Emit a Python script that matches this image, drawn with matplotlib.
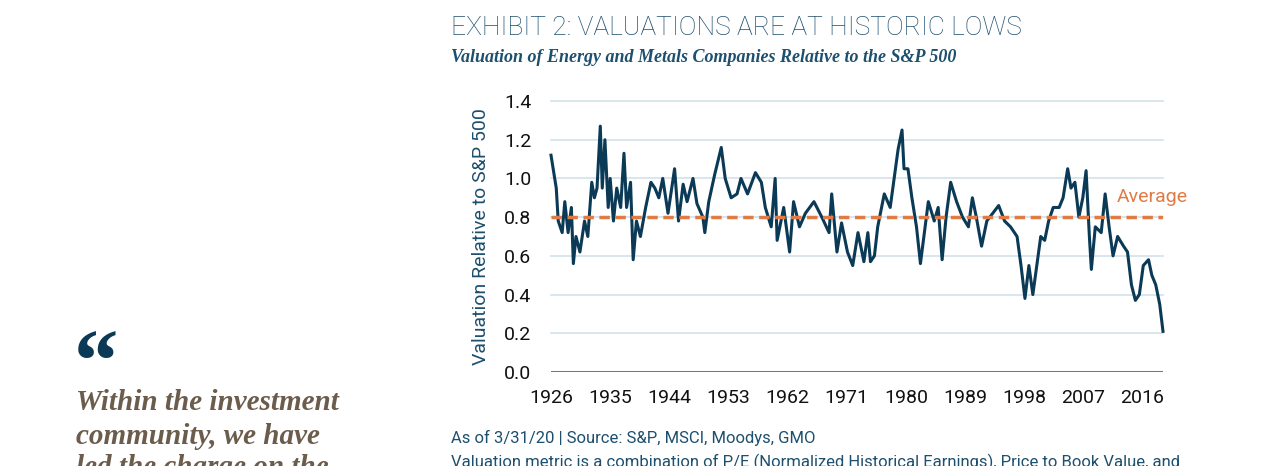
import matplotlib
matplotlib.use("Agg")
import matplotlib.pyplot as plt

years = [1926.0,1926.8,1927.1,1927.7,1928.1,1928.6,1929.1,1929.4,1929.8,1930.4,1931.1,1931.6,1932.2,1932.6,1933.0,1933.5,1933.8,1934.2,1934.7,1935.0,1935.5,1936.0,1936.6,1937.1,1937.5,1938.1,1938.5,1939.0,1939.6,1940.4,1941.2,1941.8,1942.4,1943.0,1943.8,1944.8,1945.4,1946.1,1946.7,1947.6,1948.2,1949.1,1949.4,1950.0,1950.9,1951.9,1952.5,1953.4,1954.3,1954.9,1955.9,1957.1,1958.0,1958.6,1959.5,1960.1,1960.4,1961.4,1962.3,1962.9,1963.8,1964.7,1966.0,1967.2,1968.3,1968.7,1969.5,1970.2,1971.1,1971.9,1972.7,1973.6,1974.2,1974.6,1975.2,1975.7,1976.7,1977.6,1978.2,1978.8,1979.4,1979.7,1980.3,1980.9,1981.6,1982.2,1982.8,1983.4,1984.3,1984.9,1985.5,1986.1,1986.8,1987.7,1988.6,1989.5,1990.1,1990.7,1991.5,1992.3,1993.2,1994.1,1995.0,1995.9,1996.9,1997.5,1998.1,1998.7,1999.3,1999.9,2000.5,2001.1,2001.7,2002.4,2003.3,2003.9,2004.6,2005.1,2005.7,2006.3,2006.9,2007.4,2007.9,2008.2,2008.8,2009.7,2010.3,2010.9,2011.5,2012.2,2013.1,2013.7,2014.3,2014.9,2015.5,2016.1,2016.9,2017.4,2018.0,2018.6,2019.1]
values = [1.12,0.95,0.78,0.72,0.88,0.72,0.85,0.56,0.70,0.62,0.78,0.70,0.98,0.90,0.95,1.27,0.95,1.20,0.85,1.00,0.78,0.95,0.85,1.13,0.85,0.98,0.58,0.78,0.70,0.85,0.98,0.95,0.90,1.00,0.82,1.05,0.78,0.97,0.88,1.00,0.87,0.80,0.72,0.88,1.02,1.16,1.00,0.90,0.92,1.00,0.92,1.03,0.98,0.85,0.75,1.00,0.68,0.85,0.62,0.88,0.75,0.82,0.88,0.80,0.72,0.92,0.62,0.77,0.62,0.55,0.72,0.57,0.72,0.57,0.60,0.75,0.92,0.85,1.00,1.15,1.25,1.05,1.05,0.90,0.75,0.56,0.72,0.88,0.78,0.85,0.58,0.80,0.98,0.88,0.80,0.75,0.90,0.80,0.65,0.78,0.82,0.86,0.78,0.75,0.70,0.55,0.38,0.55,0.40,0.55,0.70,0.68,0.78,0.85,0.85,0.90,1.05,0.95,0.98,0.80,0.90,1.04,0.70,0.53,0.75,0.72,0.92,0.75,0.60,0.70,0.65,0.62,0.45,0.37,0.40,0.55,0.58,0.50,0.45,0.35,0.21]
average = 0.80
yticks = [0.0,0.2,0.4,0.6,0.8,1.0,1.2,1.4]
xticks = [1926,1935,1944,1953,1962,1971,1980,1989,1998,2007,2016]

navy = "#0b3a56"
teal = "#1d4f6e"
orange = "#e07b45"
brown = "#6b5c4c"

fig = plt.figure(figsize=(12.75, 4.66), dpi=100)
ax = fig.add_axes([551/1275, 1-372/466, (1163-551)/1275, (372-101)/466])
ax.set_xlim(1926, 2019.1)
ax.set_ylim(0, 1.4)
for t in yticks[1:]:
    ax.axhline(t, color="#d3e1ea", lw=1.2, zorder=1, clip_on=False)
ax.axhline(0, color="#5e7f93", lw=2.2, zorder=1)
ax.plot(years, values, color=navy, lw=2.2, zorder=3, clip_on=False)
ax.axhline(average, color=orange, lw=2.5, ls=(0, (3, 1.6)), zorder=4)
fig.text(1188/1275, 1-197/466, "Average", ha="right", va="center",
         color=orange, fontsize=14, family="Roboto", fontstretch="condensed")
ax.set_yticks(yticks)
ax.set_yticklabels([f"{v:.1f}" for v in yticks])
ax.set_xticks(xticks)
ax.tick_params(length=0, labelsize=14, colors="#111111", pad=12)
ax.tick_params(axis="y", pad=14)
for l in ax.get_xticklabels() + ax.get_yticklabels():
    l.set_family("Roboto")
for s in ax.spines.values():
    s.set_visible(False)
ax.set_ylabel("Valuation Relative to S&P 500", color=teal, fontsize=14, family="Roboto", labelpad=10)

fig.text(451/1275, 1-28/466, "EXHIBIT 2: VALUATIONS ARE AT HISTORIC LOWS", color=teal, fontsize=19,
         family="Roboto", fontweight="light", va="center")
fig.text(451/1275, 1-58/466, "Valuation of Energy and Metals Companies Relative to the S&P 500", color=teal,
         fontsize=13, family="Liberation Serif", style="italic", fontweight="bold", va="center")
fig.text(451/1275, 1-438/466, "As of 3/31/20 | Source: S&P, MSCI, Moodys, GMO", color=teal, fontsize=12,
         family="Roboto", va="center")
fig.text(451/1275, 1-462/466, "Valuation metric is a combination of P/E (Normalized Historical Earnings), Price to Book Value, and",
         color=teal, fontsize=12, family="Roboto", va="center")
fig.text(74/1275, 1-368/466, "\u201c", color=navy, fontsize=64, family="Liberation Serif", fontweight="bold", va="center")
for i, line in enumerate(["Within the investment", "community, we have", "led the charge on the"]):
    fig.text(76/1275, 1-(403+34*i)/466 + (0.008 if i == 2 else 0), line, color=brown, fontsize=21,
             family="Liberation Serif", style="italic", fontweight="bold", va="center")
fig.savefig("out.png", dpi=100)
